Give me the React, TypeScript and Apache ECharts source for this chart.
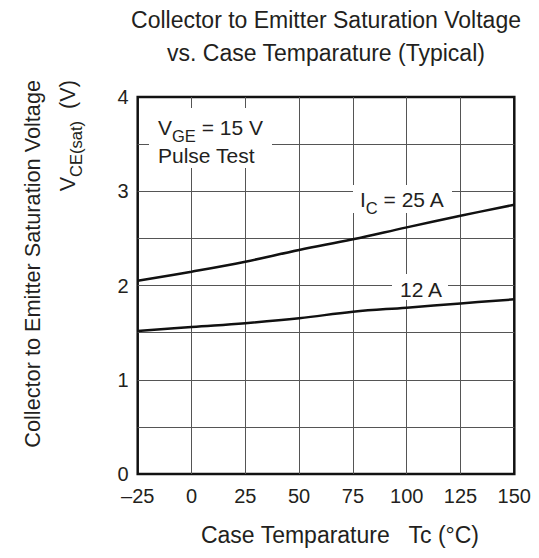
import React, { useEffect, useRef } from "react";
import * as echarts from "echarts";

const temps = [-25, 0, 25, 50, 75, 100, 125, 150];
const vce25A = [2.05, 2.147, 2.253, 2.377, 2.49, 2.617, 2.74, 2.857];
const vce12A = [1.517, 1.56, 1.6, 1.652, 1.722, 1.765, 1.81, 1.853];
const xTicks = [-25, 0, 25, 50, 75, 100, 125, 150];
const yTicks = [0, 1, 2, 3, 4];

const FONT = "'Liberation Sans', Arial, Helvetica, sans-serif";
const TXT = "#231f20";

export default function App() {
  const ref = useRef<HTMLDivElement>(null);
  useEffect(() => {
    if (!ref.current) return;
    const chart = echarts.init(ref.current, undefined, { renderer: "svg" });
    const pairs = (ys: number[]) => temps.map((t, i) => [t, ys[i]]);
    const sub = { fontSize: 16.5, fontFamily: FONT, fill: TXT, lineHeight: 12, verticalAlign: "top", padding: [12, 0, 0, 0] };
    const main = { fontSize: 21, fontFamily: FONT, fill: TXT, lineHeight: 24 };
    chart.setOption({
      animation: false,
      backgroundColor: "#fff",
      textStyle: { fontFamily: FONT, color: TXT },
      grid: {
        left: 137.7,
        right: 24.7,
        top: 97,
        bottom: 84,
        show: true,
        borderColor: "#111",
        borderWidth: 2.5,
        containLabel: false,
      },
      xAxis: {
        type: "value",
        min: xTicks[0],
        max: xTicks[xTicks.length - 1],
        interval: 25,
        axisLine: { show: false },
        axisTick: { show: false },
        axisLabel: {
          margin: 12,
          fontSize: 20,
          fontFamily: FONT,
          color: TXT,
          formatter: (v: number) => (v < 0 ? "\u2013" + Math.abs(v) : String(v)),
        },
        splitLine: { show: true, showMinLine: false, showMaxLine: false, lineStyle: { color: "#555", width: 1 } },
      },
      yAxis: {
        type: "value",
        min: yTicks[0],
        max: yTicks[yTicks.length - 1],
        interval: 0.5,
        axisLine: { show: false },
        axisTick: { show: false },
        axisLabel: {
          margin: 9,
          fontSize: 20,
          fontFamily: FONT,
          color: TXT,
          formatter: (v: number) => (yTicks.includes(v) ? String(v) : ""),
        },
        splitLine: { show: true, showMinLine: false, showMaxLine: false, lineStyle: { color: "#555", width: 1 } },
      },
      series: [
        {
          type: "line",
          name: "25 A",
          data: pairs(vce25A),
          smooth: 0.4,
          symbol: "none",
          lineStyle: { color: "#111", width: 2.5 },
          z: 3,
        },
        {
          type: "line",
          name: "12 A",
          data: pairs(vce12A),
          smooth: 0.4,
          symbol: "none",
          lineStyle: { color: "#111", width: 2.5 },
          z: 3,
        },
      ],
      graphic: [
        {
          type: "text",
          x: 326,
          y: 20,
          style: { text: "Collector to Emitter Saturation Voltage", fontSize: 23, fontFamily: FONT, fill: TXT, align: "center", verticalAlign: "middle" },
        },
        {
          type: "text",
          x: 326,
          y: 53,
          style: { text: "vs. Case Temparature (Typical)", fontSize: 23, fontFamily: FONT, fill: TXT, align: "center", verticalAlign: "middle" },
        },
        {
          type: "text",
          x: 340,
          y: 535,
          style: { text: "Case Temparature   Tc (\u00b0C)", fontSize: 23, fontFamily: FONT, fill: TXT, align: "center", verticalAlign: "middle" },
        },
        {
          type: "text",
          x: 32,
          y: 80,
          rotation: Math.PI / 2,
          style: { text: "Collector to Emitter Saturation Voltage", fontSize: 21.7, fontFamily: FONT, fill: TXT, align: "right", verticalAlign: "middle" },
        },
        {
          type: "text",
          x: 67,
          y: 80,
          rotation: Math.PI / 2,
          style: {
            text: "{a|V}{s|CE(sat)}{a|  (V)}",
            align: "right",
            verticalAlign: "middle",
            rich: { a: { ...main, fontSize: 21.7 }, s: sub },
          },
        },
        { type: "rect", z: 10, shape: { x: 149, y: 108, width: 123, height: 60 }, style: { fill: "#fff" } },
        {
          type: "text",
          z: 11,
          x: 158,
          y: 127,
          style: {
            text: "{a|V}{s|GE}{a| = 15 V}",
            align: "left",
            verticalAlign: "middle",
            rich: { a: main, s: sub },
          },
        },
        {
          type: "text",
          z: 11,
          x: 158,
          y: 155,
          style: { text: "Pulse Test", fontSize: 21, fontFamily: FONT, fill: TXT, align: "left", verticalAlign: "middle" },
        },
        { type: "rect", z: 10, shape: { x: 353, y: 185, width: 99, height: 28 }, style: { fill: "#fff" } },
        {
          type: "text",
          z: 11,
          x: 360,
          y: 199,
          style: {
            text: "{a|I}{s|C}{a| = 25 A}",
            align: "left",
            verticalAlign: "middle",
            rich: { a: main, s: sub },
          },
        },
        { type: "rect", z: 10, shape: { x: 392, y: 274, width: 56, height: 26 }, style: { fill: "#fff" } },
        {
          type: "text",
          z: 11,
          x: 421,
          y: 289,
          style: { text: "12 A", fontSize: 21, fontFamily: FONT, fill: TXT, align: "center", verticalAlign: "middle" },
        },
      ],
    });
    return () => chart.dispose();
  }, []);
  return <div ref={ref} style={{ width: 539, height: 558, position: "absolute", left: 0, top: 0 }} />;
}
